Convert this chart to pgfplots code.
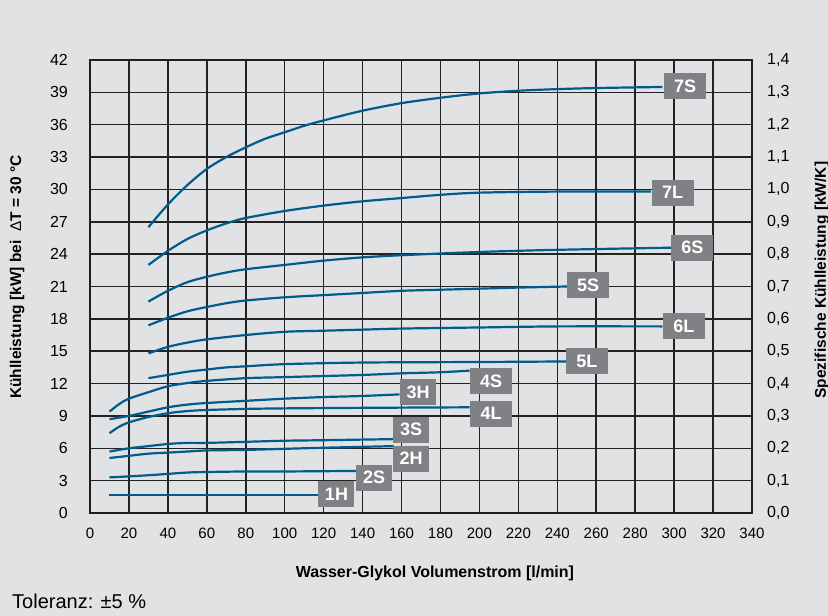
\documentclass[border=0pt]{standalone}
\usepackage{fontspec}
\setmainfont{Liberation Sans}
\setsansfont{Liberation Sans}
\usepackage{pgfplots}
\pgfplotsset{compat=1.18}

\definecolor{bg}{RGB}{225,226,228}
\definecolor{gridc}{RGB}{35,35,35}
\definecolor{framec}{RGB}{30,30,30}
\definecolor{curve}{RGB}{0,92,140}
\definecolor{boxc}{RGB}{128,129,132}

\tikzset{
  crv/.style={curve, line width=2.2pt, mark=none, smooth},
  lbl/.style={fill=boxc, text=white, font=\bfseries\fontsize{18}{21}\selectfont,
    minimum height=26pt, minimum width=42pt, inner xsep=0pt, inner ysep=0pt, anchor=center},
  lbs/.style={lbl, minimum width=36pt},
}

\begin{document}
\begin{tikzpicture}[x=1pt,y=1pt]
\fill[bg, use as bounding box] (0,0) rectangle (828,616);

\begin{axis}[
  at={(90pt,103pt)}, anchor=south west,
  scale only axis, width=662pt, height=453pt,
  xmin=0, xmax=340, ymin=0, ymax=42,
  xtick={0,20,...,340}, ytick={0,3,...,42},
  grid=major,
  major grid style={line width=1.5pt, color=gridc},
  axis line style={line width=2.2pt, color=framec},
  major tick length=0pt,
  tick label style={/pgf/number format/assume math mode=true, inner sep=0pt},
  yticklabel style={font=\fontsize{16}{19}\selectfont, xshift=-22pt},
  xticklabel style={font=\fontsize{15}{18}\selectfont, yshift=-15pt},
  xlabel={Wasser-Glykol Volumenstrom [l/min]},
  every axis x label/.style={at={(axis description cs:0.521,-0.1325)}, anchor=center,
    font=\bfseries\fontsize{16}{19}\selectfont},
  ylabel={Kühlleistung [kW] bei\ \ {\normalfont Δ}T = 30 °C},
  every axis y label/.style={at={(axis description cs:-0.110,0.521)}, rotate=90, anchor=center,
    font=\bfseries\fontsize{15.5}{18}\selectfont},
]
% 7S
\addplot[crv] coordinates {(30,26.5) (40,28.6) (50,30.4) (60,31.9) (70,33.0) (80,33.9) (90,34.7) (100,35.3) (110,35.9) (120,36.4) (140,37.3) (160,38.0) (180,38.5) (200,38.9) (220,39.15) (240,39.3) (260,39.4) (294,39.5)};
% 7L
\addplot[crv] coordinates {(30,23.0) (40,24.3) (50,25.4) (60,26.2) (70,26.85) (80,27.35) (100,28.0) (120,28.5) (140,28.9) (160,29.2) (180,29.5) (200,29.7) (240,29.8) (288,29.8)};
% 6S
\addplot[crv] coordinates {(30,19.6) (40,20.6) (50,21.4) (60,21.9) (70,22.3) (80,22.6) (100,23.0) (120,23.4) (140,23.7) (160,23.9) (200,24.2) (240,24.4) (299,24.6)};
% 5S
\addplot[crv] coordinates {(30,17.4) (40,18.1) (50,18.7) (60,19.1) (70,19.45) (80,19.7) (100,20.0) (120,20.2) (140,20.4) (160,20.6) (180,20.7) (200,20.8) (220,20.9) (245,21.0)};
% 6L
\addplot[crv] coordinates {(30,14.8) (40,15.4) (50,15.8) (60,16.1) (80,16.5) (100,16.8) (120,16.9) (140,17.0) (160,17.1) (200,17.2) (240,17.3) (294,17.3)};
% 5L
\addplot[crv] coordinates {(30,12.5) (40,12.8) (50,13.1) (60,13.3) (70,13.5) (80,13.6) (100,13.8) (140,13.95) (200,14.0) (245,14.05)};
% 4S
\addplot[crv] coordinates {(10,9.4) (15,10.1) (20,10.6) (30,11.2) (40,11.75) (50,12.05) (60,12.25) (80,12.5) (100,12.6) (140,12.8) (160,12.95) (180,13.05) (195,13.2)};
% 3H
\addplot[crv] coordinates {(10,8.7) (20,9.0) (30,9.4) (40,9.8) (50,10.05) (60,10.2) (80,10.4) (100,10.6) (120,10.75) (140,10.85) (159,11.0)};
% 4L
\addplot[crv] coordinates {(10,7.4) (15,8.0) (20,8.4) (30,8.9) (40,9.25) (50,9.45) (60,9.55) (80,9.65) (100,9.7) (140,9.75) (195,9.8)};
% 3S
\addplot[crv] coordinates {(10,5.7) (20,6.0) (30,6.2) (40,6.4) (50,6.5) (60,6.5) (80,6.6) (100,6.7) (120,6.75) (156,6.85)};
% 2H
\addplot[crv] coordinates {(10,5.1) (20,5.3) (30,5.5) (40,5.6) (50,5.7) (60,5.8) (80,5.85) (100,5.95) (120,6.05) (156,6.2)};
% 2S
\addplot[crv] coordinates {(10,3.3) (30,3.5) (50,3.75) (60,3.8) (80,3.85) (100,3.85) (137,3.9)};
% 1H
\addplot[crv] coordinates {(10,1.7) (118,1.7)};

\node[lbl] at (axis cs:305.6,39.6) {7S};
\node[lbl] at (axis cs:299.2,29.7) {7L};
\node[lbl] at (axis cs:309.4,24.6) {6S};
\node[lbl] at (axis cs:255.8,21.1) {5S};
\node[lbl] at (axis cs:305.0,17.3) {6L};
\node[lbl] at (axis cs:255.2,14.1) {5L};
\node[lbl] at (axis cs:206.0,12.2) {4S};
\node[lbl] at (axis cs:206.0,9.2) {4L};
\node[lbs] at (axis cs:168.5,11.2) {3H};
\node[lbs] at (axis cs:164.9,7.74) {3S};
\node[lbs] at (axis cs:164.9,5.05) {2H};
\node[lbs] at (axis cs:145.9,3.29) {2S};
\node[lbs] at (axis cs:126.6,1.76) {1H};
\end{axis}

\begin{axis}[
  at={(90pt,103pt)}, anchor=south west,
  scale only axis, width=662pt, height=453pt,
  xmin=0, xmax=340, ymin=0, ymax=1.4,
  hide x axis, axis y line*=right,
  axis line style={line width=2.2pt, color=framec},
  major tick length=0pt,
  ytick={0,0.1,0.2,0.3,0.4,0.5,0.6,0.7,0.8,0.9,1.0,1.1,1.2,1.3,1.4},
  yticklabels={{0,0},{0,1},{0,2},{0,3},{0,4},{0,5},{0,6},{0,7},{0,8},{0,9},{1,0},{1,1},{1,2},{1,3},{1,4}},
  yticklabel style={font=\fontsize{16}{19}\selectfont, inner sep=0pt, anchor=west, xshift=15pt},
  ylabel={Spezifische Kühlleistung [kW/K]},
  every axis y label/.style={at={(axis description cs:1.1057,0.514)}, rotate=90, anchor=center,
    font=\bfseries\fontsize{15.5}{18}\selectfont},
]
\end{axis}

\node[anchor=west, inner sep=0pt, font=\fontsize{20}{24}\selectfont] at (12,15) {Toleranz: ±5 \%};
\end{tikzpicture}
\end{document}
